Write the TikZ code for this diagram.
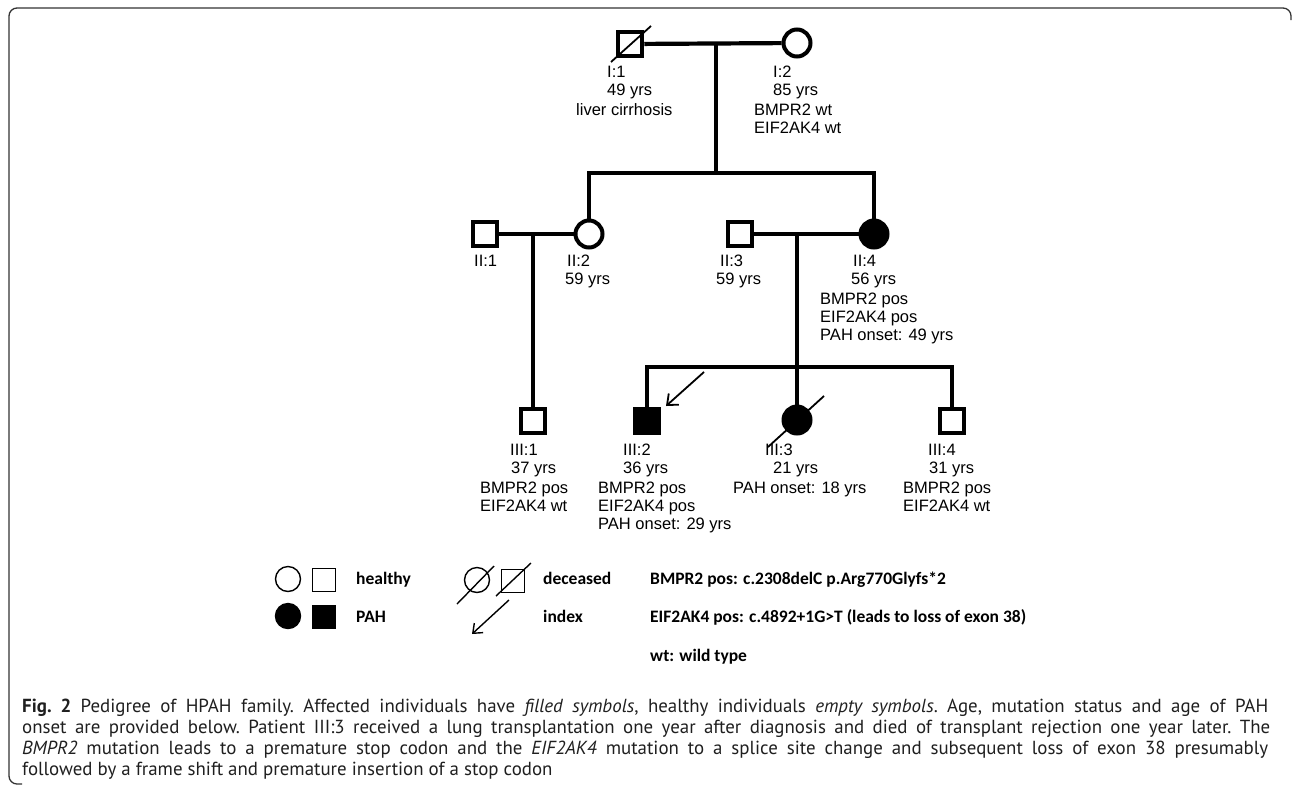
\documentclass[tikz,border=0pt]{standalone}
\usepackage{fontspec}
\setmainfont{Liberation Sans}
\newfontfamily\legfont{Carlito}
\newfontfamily\capfont{PT Sans}
\usetikzlibrary{arrows.meta}
\begin{document}
\begin{tikzpicture}[x=1pt,y=-1pt,
  ped/.style={line width=4.2pt, line join=miter},
  sqr/.style={draw, rectangle, line width=4pt, minimum size=24.5pt, inner sep=0pt},
  cir/.style={draw, circle, line width=4pt, minimum size=27pt, inner sep=0pt},
  aff/.style={fill=black},
  dslash/.style={line width=1.8pt},
  idx/.style={line width=1.8pt, -{Straight Barb[length=9pt,width=15pt,line width=1.8pt]}},
  lbl/.style={anchor=base west, inner sep=0pt, font=\fontsize{16.5}{18}\selectfont},
  lsq/.style={draw, rectangle, line width=1.4pt, minimum size=23pt, inner sep=0pt},
  lci/.style={draw, circle, line width=1.4pt, minimum size=25pt, inner sep=0pt},
  ltx/.style={anchor=base west, inner sep=0pt, font=\legfont\bfseries\fontsize{17.5}{20}\selectfont},
  captxt/.style={anchor=base west, inner sep=0pt, font=\capfont\fontsize{18.9}{21}\selectfont\frenchspacing, text=black!88}
]
\useasboundingbox (0,0) rectangle (1292,785);
% frame
\draw[line width=1.3pt, black!80, rounded corners=8pt] (1291,20) -- (1291,8) -- (9,8) -- (9,784) -- (22,784);

% ---------- generation I
\node[sqr] (I1) at (630,44) {};
\node[cir] (I2) at (797,43) {};
\draw[dslash] (611,62) -- (651,26);
\draw[ped] (I1) -- (I2);
\coordinate (m1) at (716,43);
\coordinate (s1) at (716,173);
\coordinate (sL) at (589,173);
\coordinate (sR) at (874,173);

% ---------- generation II
\node[sqr] (II1) at (485,234) {};
\node[cir] (II2) at (589,234) {};
\node[sqr] (II3) at (740,234) {};
\node[cir,aff] (II4) at (874,234) {};
\draw[ped] (m1) -- (s1);
\draw[ped] (II2) -- (sL) -- (sR) -- (II4);
\draw[ped] (II1) -- (II2);
\draw[ped] (II3) -- (II4);
\coordinate (m2) at (533,234);
\coordinate (m3) at (797,234);
\coordinate (t2) at (647,367);
\coordinate (t4) at (952,367);

% ---------- generation III
\node[sqr] (III1) at (533,421) {};
\node[sqr,aff] (III2) at (647,421) {};
\node[cir,aff] (III3) at (797,420) {};
\node[sqr] (III4) at (952,421) {};
\draw[ped] (m2) -- (III1);
\draw[ped] (m3) -- (III3);
\draw[ped] (III2) -- (t2) -- (t4) -- (III4);
\draw[dslash] (768,447) -- (824,396);
\coordinate (a1) at (704,372);
\coordinate (a2) at (666,406);
\draw[idx] (a1) -- (a2);

% ---------- labels I
\node[lbl] (tI1a) at (607,77) {I:1};
\node[lbl] (tI1b) at (607,95) {49 yrs};
\node[lbl] (tI1c) at (576,115) {liver cirrhosis};
\node[lbl] (tI2a) at (773,77) {I:2};
\node[lbl] (tI2b) at (773,95) {85 yrs};
\node[lbl] (tI2c) at (754,115) {BMPR2 wt};
\node[lbl] (tI2d) at (754,133) {EIF2AK4 wt};
% labels II
\node[lbl] (tII1a) at (474,266) {II:1};
\node[lbl] (tII2a) at (567,266) {II:2};
\node[lbl] (tII2b) at (565,284) {59 yrs};
\node[lbl] (tII3a) at (720,266) {II:3};
\node[lbl] (tII3b) at (716,284) {59 yrs};
\node[lbl] (tII4a) at (853,266) {II:4};
\node[lbl] (tII4b) at (851,284) {56 yrs};
\node[lbl] (tII4c) at (820,304) {BMPR2 pos};
\node[lbl] (tII4d) at (820,322) {EIF2AK4 pos};
\node[lbl] (tII4e) at (820,340) {PAH onset: 49 yrs};
% labels III
\node[lbl] (tIII1a) at (510,455) {III:1};
\node[lbl] (tIII1b) at (511,473) {37 yrs};
\node[lbl] (tIII1c) at (480,493) {BMPR2 pos};
\node[lbl] (tIII1d) at (480,511) {EIF2AK4 wt};
\node[lbl] (tIII2a) at (623,455) {III:2};
\node[lbl] (tIII2b) at (623,473) {36 yrs};
\node[lbl] (tIII2c) at (598,493) {BMPR2 pos};
\node[lbl] (tIII2d) at (598,511) {EIF2AK4 pos};
\node[lbl] (tIII2e) at (598,529) {PAH onset: 29 yrs};
\node[lbl] (tIII3a) at (765,455) {III:3};
\node[lbl] (tIII3b) at (773,473) {21 yrs};
\node[lbl] (tIII3c) at (733,493) {PAH onset: 18 yrs};
\node[lbl] (tIII4a) at (928,455) {III:4};
\node[lbl] (tIII4b) at (929,473) {31 yrs};
\node[lbl] (tIII4c) at (903,493) {BMPR2 pos};
\node[lbl] (tIII4d) at (903,511) {EIF2AK4 wt};

% ---------- legend
\node[lci] (Lc1) at (288,579) {};
\node[lsq] (Ls1) at (324,580) {};
\node[lci,aff] (Lc2) at (288,616) {};
\node[lsq,aff] (Ls2) at (324,617) {};
\node[ltx] (Lh) at (356,584) {healthy};
\node[ltx] (Lp) at (356,622) {PAH};
\node[lci] (Lc3) at (477,580) {};
\draw[line width=1.4pt] (457,604) -- (494,566);
\node[lsq] (Ls3) at (513,581) {};
\draw[line width=1.4pt] (496,596) -- (531,563);
\coordinate (La1) at (509,600);
\coordinate (La2) at (472,634);
\draw[line width=1.4pt, -{Straight Barb[length=8pt,width=13pt,line width=1.4pt]}] (La1) -- (La2);
\node[ltx] (Ld) at (543,584) {deceased};
\node[ltx] (Li) at (543,622) {index};
\node[ltx] (Lb) at (650,584) {BMPR2 pos: c.2308delC p.Arg770Glyfs*2};
\node[ltx] (Le) at (650,622) {EIF2AK4 pos: c.4892+1G>T (leads to loss of exon 38)};
\node[ltx] (Lw) at (650,661) {wt: wild type};

% ---------- caption
\node[captxt] (c1) at (22,712) {\hbox to 1246pt{\textbf{Fig. 2} Pedigree of HPAH family. Affected individuals have \textit{filled symbols}, healthy individuals \textit{empty symbols}. Age, mutation status and age of PAH}};
\node[captxt] (c2) at (22,733) {\hbox to 1248pt{onset are provided below. Patient III:3 received a lung transplantation one year after diagnosis and died of transplant rejection one year later. The}};
\node[captxt] (c3) at (22,754) {\hbox to 1246pt{\textit{BMPR2} mutation leads to a premature stop codon and the \textit{EIF2AK4} mutation to a splice site change and subsequent loss of exon 38 presumably}};
\node[captxt] (c4) at (22,775) {followed by a frame shift and premature insertion of a stop codon};
\end{tikzpicture}
\end{document}
